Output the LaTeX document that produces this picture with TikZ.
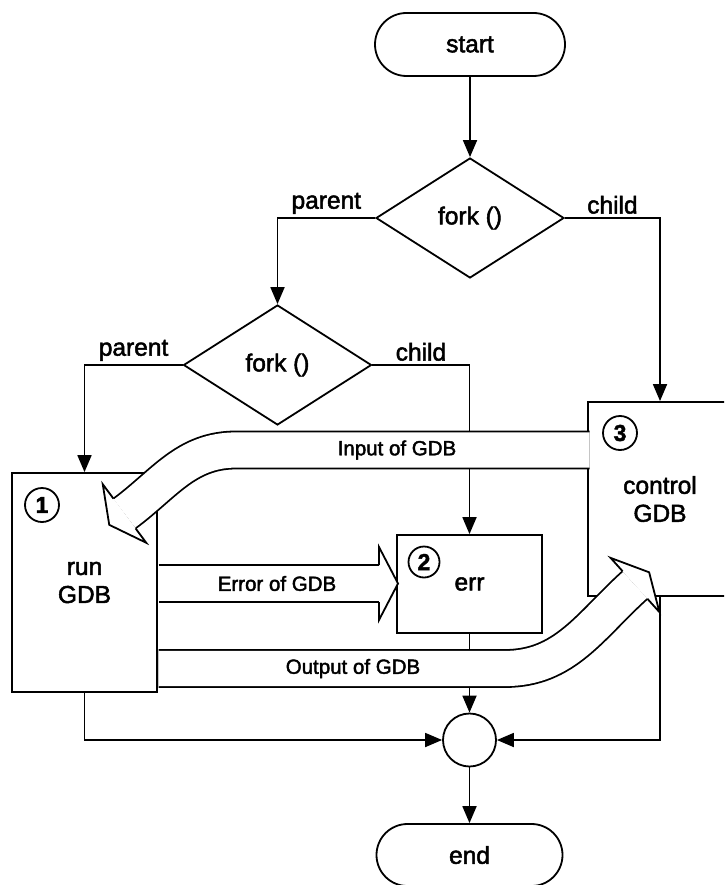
\documentclass[tikz,border=0pt]{standalone}
\usepackage{fontspec}
\setmainfont{Liberation Sans}
\newfontfamily\scanfont{Liberation Sans}[FakeBold=2]
\usetikzlibrary{arrows.meta, positioning, calc, shapes.geometric, shapes.misc}

% hollow head at the end of a wide band
\newcommand{\bandhead}[2]{%
  \draw[line width=1.8pt, fill=white, shift={#1}, rotate=#2]
    (0,18.5) -- (0,36.5) -- (19,0) -- (0,-36.5) -- (0,-18.5);}

\begin{document}
\begin{tikzpicture}[x=1pt, y=1pt, line width=1.8pt,
    font=\scanfont\fontsize{24.5}{28}\selectfont,
    flow/.style={-{Triangle[length=17pt,width=14pt]}},
    term/.style={draw, rounded rectangle, minimum width=190pt,
      minimum height=63pt, inner sep=0pt},
    decision/.style={draw, diamond, aspect=1.567, minimum width=188pt,
      minimum height=120pt, inner sep=0pt},
    box/.style={draw, fill=white, rectangle, inner sep=0pt, align=center},
    num/.style={draw, circle, minimum size=34pt, inner sep=0pt,
      font=\scanfont\fontsize{23}{23}\selectfont\bfseries},
    band/.style={line width=1.8pt, double=white, double distance=35.2pt},
    bandlabel/.style={font=\scanfont\fontsize{20.5}{22}\selectfont}]
  \useasboundingbox (0,0) rectangle (724,-885);
  \clip (0,0) rectangle (724,-885);

  % flow chart
  \node[term] (start) at (470,-44.5) {start};
  \node[decision] (fork1) at (470,-218) {fork ()};
  \node[decision] (fork2) at (277.5,-365) {fork ()};
  \node[box, minimum width=145pt, minimum height=219pt] (run) at (84.5,-582.5) {run\\GDB};
  \node[box, minimum width=145pt, minimum height=98pt] (err) at (469.5,-584) {err};
  \node[box, minimum width=144pt, minimum height=194pt] (ctrl) at (660,-499) {control\\GDB};
  \node[num] (n1) at (42,-505) {1};
  \node[num, minimum size=31pt] (n2) at (424,-562) {2};
  \node[num] (n3) at (620,-433) {3};
  \node[draw, circle, minimum size=53pt, inner sep=0pt] (merge) at (469.5,-740) {};
  \node[term, minimum width=186pt, minimum height=62pt] (end) at (469.5,-855) {end};

  \draw[flow] (start) -- (fork1);
  \draw[flow] (fork1.west) -| node[pos=0.25, above] {parent} (fork2.north);
  \draw[flow] (fork1.east) -| node[pos=0.25, above] {child} (ctrl.north);
  \draw[flow] (fork2.west) -| node[pos=0.25, above] {parent} (run.north);
  \draw[flow] (fork2.east) -| node[pos=0.25, above] {child} (err.north);
  \draw[flow] (run.south) |- (merge.west);
  \draw[flow] (ctrl.south) |- (merge.east);
  \draw[flow] (err.south) -- (merge.north);
  \draw[flow] (merge) -- (end);

  % wide arrows
  \coordinate (inA) at (589.6,-450);
  \coordinate (inB) at (236,-450);
  \coordinate (inE) at (124.5,-513.5);
  \draw[band] (inA) -- (inB) to[out=180, in=36.6] (inE);
  \bandhead{(inE)}{216.6}

  \coordinate (erA) at (158.6,-583.5);
  \coordinate (erE) at (379,-583.5);
  \draw[band] (erA) -- (erE);
  \bandhead{(erE)}{0}

  \coordinate (outA) at (158.6,-668.5);
  \coordinate (outB) at (505,-668.5);
  \coordinate (outE) at (635,-585);
  \draw[band] (outA) -- (outB) to[out=0, in=222] (outE);
  \bandhead{(outE)}{42}

  \node[bandlabel] (inlabel) at (397,-450) {Input of GDB};
  \node[bandlabel] (errlabel) at (277,-583.5) {Error of GDB};
  \node[bandlabel] (outlabel) at (353,-668.5) {Output of GDB};
\end{tikzpicture}
\end{document}
